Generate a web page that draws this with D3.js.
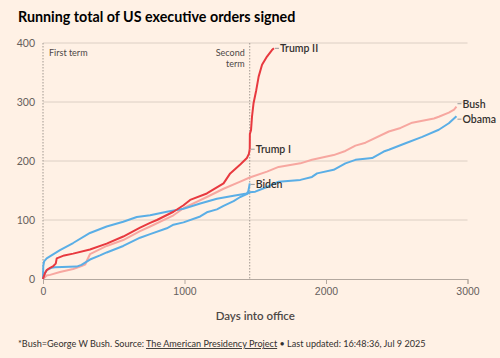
<!DOCTYPE html>
<html>
<head>
<meta charset="utf-8">
<script src="https://cdn.jsdelivr.net/npm/d3@7"></script>
<style>
  body { margin: 0; background: #fff1e5; }
  svg { display: block; font-family: Lato, 'Noto Sans', sans-serif; }
  .grid line { stroke: #dccfc4; }
  .axis text { fill: #66605c; font-size: 10.5px; }
  .lbl { fill: #33302e; font-size: 10.5px; font-weight: 600; }
  .note { fill: #4d4845; font-size: 9px; }
</style>
</head>
<body>
<svg width="500" height="358"></svg>
<script>
// days into office, running total
const trump1 = [[0,0],[2,2],[14,10],[26,15],[50,19],[73,22],[90,26],[97,35],[150,40],[213,43],[332,50],
  [450,60],[567,72],[686,87],[757,95],[805,100],[922,114],[993,125],[1040,134],[1158,145],[1276,162],
  [1323,179],[1394,194],[1441,205],[1455,212],[1461,220]];
const trump2 = [[1461,220],[1462,246],[1470,252],[1477,275],[1488,298],[1507,320],[1524,343],[1548,363],
  [1583,377],[1618,388],[1632,391]];
const bush = [[0,0],[26,6],[50,7],[120,12],[213,17],[272,22],[300,25],[308,30],[332,42],[450,56],[567,66],
  [686,81],[757,89],[922,108],[993,120],[1158,139],[1276,153],[1394,165],[1461,172],[1583,182],[1665,190],
  [1819,196],[1901,202],[2054,210],[2137,217],[2208,226],[2279,231],[2444,250],[2527,256],[2609,265],
  [2763,272],[2797,275],[2868,282],[2905,287],[2922,292]];
const obama = [[0,0],[5,6],[26,15],[60,19],[85,20],[238,21],[272,24],[332,33],[403,40],[450,45],[567,56],
  [686,70],[757,76],[875,86],[922,92],[993,96],[1111,106],[1158,113],[1229,118],[1276,124],[1347,132],
  [1394,139],[1440,144],[1461,147],[1500,148],[1583,156],[1665,165],[1819,168],[1901,173],[1937,179],
  [2054,185],[2137,196],[2208,202],[2326,205],[2408,216],[2444,219],[2562,230],[2680,241],[2797,253],
  [2868,264],[2922,276]];
const biden = [[0,0],[2,22],[8,30],[26,35],[60,40],[120,49],[213,61],[332,78],[450,89],[567,97],[663,105],
  [757,108],[875,114],[993,119],[1111,128],[1229,136],[1347,141],[1440,145],[1450,148],[1456,155],[1461,162]];

const xTicks = [0, 1000, 2000, 3000];
const yTicks = [0, 100, 200, 300, 400];
const termDay = 1461;

const series = [
  { name: 'Bush', data: bush, color: '#f7a7a0', label: 'Bush', dy: -3 },
  { name: 'Obama', data: obama, color: '#5aaee6', label: 'Obama', dy: 3 },
  { name: 'Biden', data: biden, color: '#5aaee6', label: 'Biden', dy: 1 },
  { name: 'Trump I', data: trump1, color: '#e8393f', label: 'Trump I', dy: 0 },
  { name: 'Trump II', data: trump2, color: '#e8393f', label: 'Trump II', dy: 0 }
];

const svg = d3.select('svg');
const x = d3.scaleLinear().domain([0, 3000]).range([43, 467.5]);
const y = d3.scaleLinear().domain([0, 400]).range([279, 43]);

svg.append('text')
  .attr('x', 18).attr('y', 22)
  .attr('font-size', 14.3).attr('font-weight', 700).attr('fill', '#000')
  .text('Running total of US executive orders signed');

// gridlines
svg.append('g').attr('class', 'grid')
  .selectAll('line').data(yTicks.slice(1))
  .enter().append('line')
  .attr('x1', x(0)).attr('x2', x(3000))
  .attr('y1', d => y(d)).attr('y2', d => y(d));

// y labels
svg.append('g').attr('class', 'axis')
  .selectAll('text').data(yTicks)
  .enter().append('text')
  .attr('x', 35).attr('y', d => y(d) + 3.5)
  .attr('text-anchor', 'end')
  .text(d => d);

// x axis
const xAxis = svg.append('g').attr('class', 'axis')
  .attr('transform', `translate(0,${y(0)})`)
  .call(d3.axisBottom(x).tickValues(xTicks).tickFormat(d3.format('d')).tickSize(5).tickPadding(4));
xAxis.select('.domain').attr('stroke', '#b3a89f');
xAxis.selectAll('.tick line').attr('stroke', '#b3a89f');
xAxis.selectAll('text').attr('font-family', null).attr('font-size', null);

// term lines
svg.append('g').selectAll('line').data([0, termDay])
  .enter().append('line')
  .attr('x1', d => x(d)).attr('x2', d => x(d))
  .attr('y1', y(400)).attr('y2', y(0))
  .attr('stroke', '#a09890').attr('stroke-dasharray', '1.5,1.5');

svg.append('text').attr('class', 'note')
  .attr('x', x(0) + 6).attr('y', y(400) + 13)
  .text('First term');
svg.append('text').attr('class', 'note')
  .attr('text-anchor', 'end')
  .selectAll('tspan').data(['Second', 'term'])
  .enter().append('tspan')
  .attr('x', x(termDay) - 5)
  .attr('y', (d, i) => y(400) + 13 + i * 11)
  .text(d => d);

// lines
const line = d3.line().x(d => x(d[0])).y(d => y(d[1]));
svg.append('g').selectAll('path').data(series)
  .enter().append('path')
  .attr('fill', 'none')
  .attr('stroke', d => d.color)
  .attr('stroke-width', 2)
  .attr('stroke-linejoin', 'round')
  .attr('d', d => line(d.data));

// labels
const lbl = svg.append('g').selectAll('g').data(series)
  .enter().append('g')
  .attr('transform', d => {
    const last = d.data[d.data.length - 1];
    return `translate(${x(last[0])},${y(last[1]) + d.dy})`;
  });
lbl.append('line')
  .attr('x1', 1).attr('x2', 5)
  .attr('stroke', '#999');
lbl.append('text').attr('class', 'lbl')
  .attr('x', 6).attr('y', 3.8)
  .text(d => d.label);

svg.append('text')
  .attr('x', x(1500)).attr('y', 320)
  .attr('text-anchor', 'middle')
  .attr('font-size', 11.5).attr('font-weight', 600).attr('fill', '#4d4845')
  .text('Days into office');

const foot = svg.append('text')
  .attr('x', 18).attr('y', 347)
  .attr('font-size', 9.1).attr('fill', '#33302e');
foot.append('tspan').text('*Bush=George W Bush. Source: ');
foot.append('tspan').attr('text-decoration', 'underline').text('The American Presidency Project');
foot.append('tspan').text(' \u2022 Last updated: 16:48:36, Jul 9 2025');
</script>
</body>
</html>
